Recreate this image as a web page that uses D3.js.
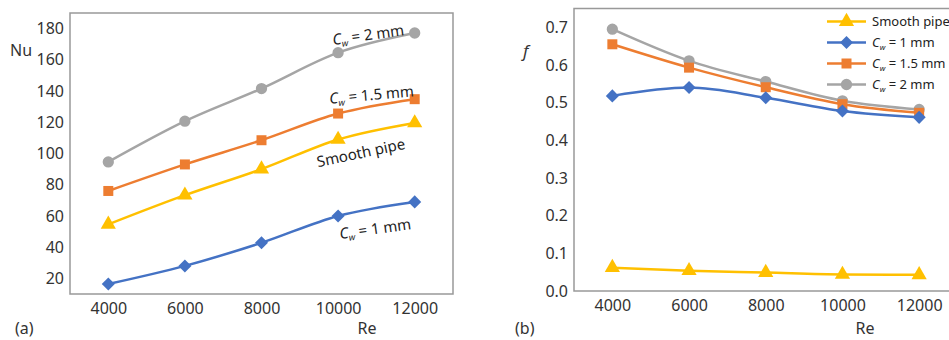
<!DOCTYPE html>
<html>
<head>
<meta charset="utf-8">
<script src="https://cdn.jsdelivr.net/npm/d3@7"></script>
<style>
  body { margin: 0; background: #fff; }
  svg { display: block; font-family: "Noto Sans", sans-serif; }
</style>
</head>
<body>
<div id="chart"></div>
<script>
// Reynolds numbers shared by both panels
const reValues = [4000, 6000, 8000, 10000, 12000];

// (a) Nusselt number
const nuSmooth = [54.6, 73.3, 90, 109, 119.6];
const nuCw1 = [16.4, 28, 42.8, 60, 69];
const nuCw15 = [76, 93, 108.5, 125.6, 134.8];
const nuCw2 = [94.6, 120.7, 141.6, 164.6, 177.2];

// (b) friction factor
const fSmooth = [0.062, 0.054, 0.049, 0.044, 0.043];
const fCw1 = [0.518, 0.540, 0.513, 0.478, 0.461];
const fCw15 = [0.655, 0.593, 0.541, 0.496, 0.473];
const fCw2 = [0.695, 0.611, 0.556, 0.505, 0.482];

const nuTicks = [20, 40, 60, 80, 100, 120, 140, 160, 180];
const fTicks = [0, 0.1, 0.2, 0.3, 0.4, 0.5, 0.6, 0.7];

// series styling (Excel-like palette); diamond = square turned 45deg
const series = [
  {key: "smooth", name: "Smooth pipe", color: "#ffc000", marker: d3.symbolTriangle, size: 100, rot: 0},
  {key: "cw1", name: "1 mm", color: "#4472c4", marker: d3.symbolSquare, size: 85, rot: 45},
  {key: "cw15", name: "1.5 mm", color: "#ed7d31", marker: d3.symbolSquare, size: 100, rot: 0},
  {key: "cw2", name: "2 mm", color: "#a5a5a5", marker: d3.symbolCircle, size: 100, rot: 0}
];

const width = 949, height = 340;

const svg = d3.select("#chart")
  .append("svg")
  .attr("width", width)
  .attr("height", height);

const drawPanel = (opts) => {
  const {left, right, top, bottom, xDomain, yDomain, ticks, fmt, data} = opts;

  const xScale = d3.scaleLinear().domain(xDomain).range([left, right]);
  const yScale = d3.scaleLinear().domain(yDomain).range([bottom, top]);

  const g = svg.append("g");

  // frame
  g.append("rect")
    .attr("x", left).attr("y", top)
    .attr("width", right - left).attr("height", bottom - top)
    .attr("fill", "none")
    .attr("stroke", "#999")
    .attr("stroke-width", 1.5);

  // y axis labels (no ticks, no domain)
  g.append("g")
    .attr("transform", `translate(${left}, 0)`)
    .call(d3.axisLeft(yScale).tickValues(ticks).tickFormat(fmt).tickSize(0).tickPadding(6))
    .call(s => s.select(".domain").remove())
    .selectAll("text")
      .attr("font-size", 16)
      .attr("font-family", "Noto Sans, sans-serif")
      .attr("fill", "#333");

  // x axis labels
  g.append("g")
    .attr("transform", `translate(0, ${bottom})`)
    .call(d3.axisBottom(xScale).tickValues(reValues).tickFormat(d3.format("d")).tickSize(0).tickPadding(9))
    .call(s => s.select(".domain").remove())
    .selectAll("text")
      .attr("font-size", 16)
      .attr("font-family", "Noto Sans, sans-serif")
      .attr("fill", "#333");

  const line = d3.line()
    .curve(d3.curveMonotoneX)
    .x((d, i) => xScale(reValues[i]))
    .y(d => yScale(d));

  // gray drawn first so the coloured lines sit on top
  series.slice().reverse().forEach(s => {
    const vals = data[s.key];
    g.append("path")
      .attr("d", line(vals))
      .attr("fill", "none")
      .attr("stroke", s.color)
      .attr("stroke-width", 2.5);
    g.selectAll(null)
      .data(vals)
      .join("path")
        .attr("transform", (d, i) => `translate(${xScale(reValues[i])}, ${yScale(d)}) rotate(${s.rot})`)
        .attr("d", d3.symbol(s.marker, s.size))
        .attr("fill", s.color);
  });

  return {xScale, yScale};
};

// helper for the "C_w = ..." labels
const cwText = (sel, value, fs) => {
  sel.append("tspan").attr("font-style", "italic").text("C");
  sel.append("tspan").attr("font-size", fs * 0.6).attr("dy", 3).attr("font-style", "italic").text("w");
  sel.append("tspan").attr("dy", -3).text(` = ${value}`);
};

/* Panel (a) */
drawPanel({
  left: 70, right: 453, top: 13, bottom: 294,
  xDomain: [3000, 13000], yDomain: [10, 190],
  ticks: nuTicks, fmt: d3.format("d"),
  data: {smooth: nuSmooth, cw1: nuCw1, cw15: nuCw15, cw2: nuCw2}
});

svg.append("text").attr("x", 10).attr("y", 56).attr("font-size", 16).attr("fill", "#333").text("Nu");
svg.append("text").attr("x", 367).attr("y", 334).attr("font-size", 16).attr("fill", "#333").attr("text-anchor", "middle").text("Re");
svg.append("text").attr("x", 15).attr("y", 334).attr("font-size", 16).attr("fill", "#333").text("(a)");

// in-plot annotations
const annots = [
  {x: 369, y: 40, rot: -8, text: "2 mm", cw: true},
  {x: 372, y: 100, rot: -5, text: "1.5 mm", cw: true},
  {x: 362, y: 158, rot: -12, text: "Smooth pipe", cw: false},
  {x: 376, y: 234, rot: -8, text: "1 mm", cw: true}
];
annots.forEach(a => {
  const t = svg.append("text")
    .attr("transform", `translate(${a.x}, ${a.y}) rotate(${a.rot})`)
    .attr("text-anchor", "middle")
    .attr("font-size", 15)
    .attr("fill", "#222");
  if (a.cw) cwText(t, a.text, 15); else t.text(a.text);
});

/* Panel (b) */
drawPanel({
  left: 574, right: 957.5, top: 8.5, bottom: 291,
  xDomain: [3000, 13000], yDomain: [0, 0.75],
  ticks: fTicks, fmt: d3.format(".1f"),
  data: {smooth: fSmooth, cw1: fCw1, cw15: fCw15, cw2: fCw2}
});

svg.append("text").attr("x", 523).attr("y", 57).attr("font-size", 17).attr("font-style", "italic").attr("fill", "#333").text("f");
svg.append("text").attr("x", 865).attr("y", 334).attr("font-size", 16).attr("fill", "#333").attr("text-anchor", "middle").text("Re");
svg.append("text").attr("x", 515).attr("y", 334).attr("font-size", 16).attr("fill", "#333").text("(b)");

// legend
const legend = svg.append("g");
legend.append("rect")
  .attr("x", 822).attr("y", 11).attr("width", 127).attr("height", 84)
  .attr("fill", "#fff");
series.forEach((s, i) => {
  const y = 21.5 + i * 21;
  legend.append("line")
    .attr("x1", 827).attr("x2", 866).attr("y1", y).attr("y2", y)
    .attr("stroke", s.color).attr("stroke-width", 2.5);
  legend.append("path")
    .attr("transform", `translate(846.5, ${y}) rotate(${s.rot})`)
    .attr("d", d3.symbol(s.marker, s.size))
    .attr("fill", s.color);
  const t = legend.append("text")
    .attr("x", 872).attr("y", y + 4.5)
    .attr("font-size", 13)
    .attr("fill", "#222");
  if (s.key === "smooth") t.text(s.name); else cwText(t, s.name, 13);
});
</script>
</body>
</html>
